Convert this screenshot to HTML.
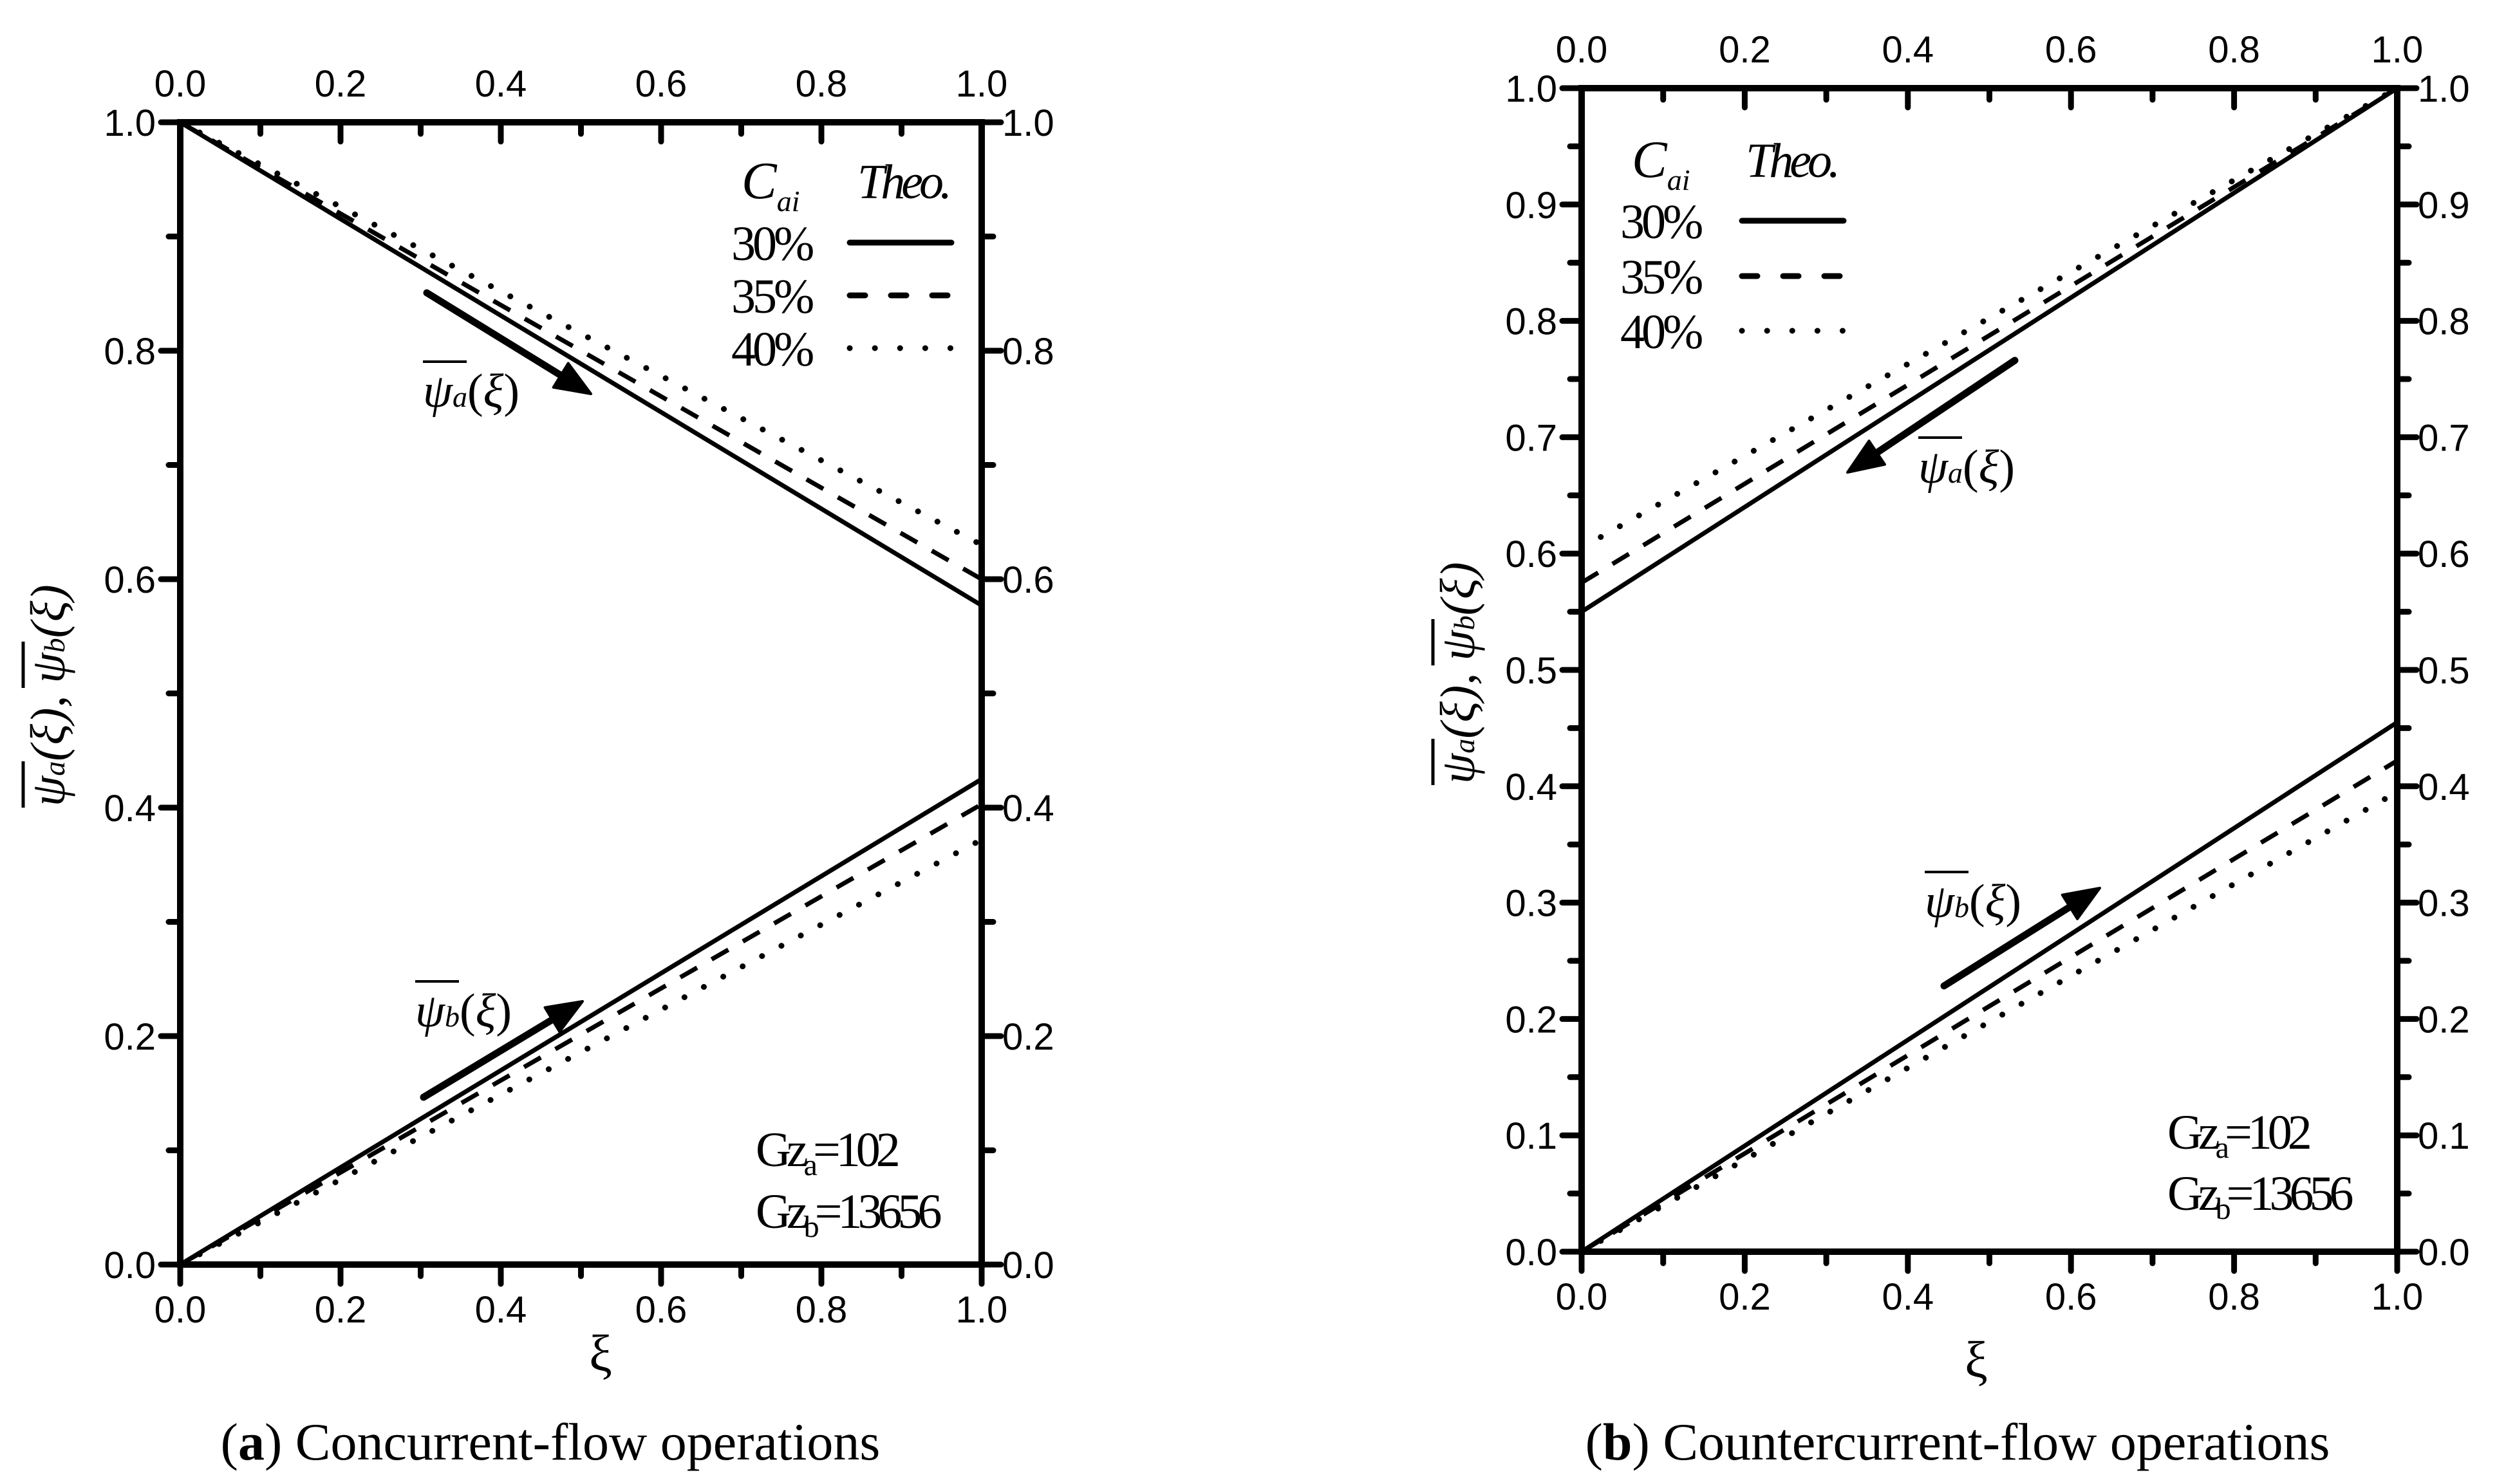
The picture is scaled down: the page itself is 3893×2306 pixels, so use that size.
<!DOCTYPE html>
<html><head><meta charset="utf-8"><style>
html,body{margin:0;padding:0;background:#fff;}
svg{display:block;}
.tk{font-family:"Liberation Sans",Arial,sans-serif;font-size:58px;fill:#000;}
.sr{font-family:"Liberation Serif","Times New Roman",serif;fill:#000;}
</style></head><body>
<svg id="fig" width="3893" height="2306" viewBox="0 0 3893 2306" xmlns="http://www.w3.org/2000/svg"></svg>
<script>
// ---- data ----
const seriesNames = ["30%", "35%", "40%"];
const xPoints = [0, 1];
// Panel (a) concurrent flow
const aUpper30 = [1.0, 0.577];
const aUpper35 = [1.0, 0.600];
const aUpper40 = [1.0, 0.630];
const aLower30 = [0.0, 0.425];
const aLower35 = [0.0, 0.403];
const aLower40 = [0.0, 0.372];
// Panel (b) countercurrent flow
const bUpper30 = [0.550, 1.0];
const bUpper35 = [0.575, 1.0];
const bUpper40 = [0.605, 1.0];
const bLower30 = [0.0, 0.455];
const bLower35 = [0.0, 0.422];
const bLower40 = [0.0, 0.395];
const xTickLabels = ["0.0","0.2","0.4","0.6","0.8","1.0"];
const aYTickLabels = ["0.0","0.2","0.4","0.6","0.8","1.0"];
const bYTickLabels = ["0.0","0.1","0.2","0.3","0.4","0.5","0.6","0.7","0.8","0.9","1.0"];

const NS = "http://www.w3.org/2000/svg";
const svg = document.getElementById("fig");
function mk(tag, attrs, parent){
  const e = document.createElementNS(NS, tag);
  for (const k in attrs) e.setAttribute(k, attrs[k]);
  (parent||svg).appendChild(e);
  return e;
}
const styles = [
  {"stroke-width":7},
  {"stroke-width":7,"stroke-dasharray":"30 26"},
  {"stroke-width":9,"stroke-dasharray":"0.1 34","stroke-linecap":"round"}
];

function panel(p){
  const g = mk("g", {});
  
  
  const X = v => p.x0 + (p.x1 - p.x0) * v;
  const Y = v => p.y0 - (p.y0 - p.y1) * v;
  const sets = [p.upper, p.lower];
  sets.forEach((grp, gi) => {
    grp.forEach((vals, si) => {
      const d = xPoints.map((xv, i) => (i ? "L" : "M") + X(xv).toFixed(1) + " " + Y(vals[i]).toFixed(1)).join(" ");
      const path = mk("path", Object.assign({d: d, fill: "none", stroke: "#000"}, styles[si]), g);
      
      
    });
  });
  const fr = mk("rect", {x: p.x0, y: p.y1, width: p.x1 - p.x0, height: p.y0 - p.y1, fill: "none", stroke: "#000", "stroke-width": 10}, g);
  
  
  for (let i = 0; i <= 10; i++){
    const v = i / 10, major = i % 2 === 0, L = major ? 30 : 18, xx = X(v);
    mk("line", {x1: xx, x2: xx, y1: p.y0, y2: p.y0 + L, stroke: "#000", "stroke-width": 9, "stroke-linecap": "round"}, g);
    mk("line", {x1: xx, x2: xx, y1: p.y1, y2: p.y1 + L, stroke: "#000", "stroke-width": 9, "stroke-linecap": "round"}, g);
  }
  xTickLabels.forEach((t, i) => {
    const v = i / (xTickLabels.length - 1);
    const tb = mk("text", {x: X(v), y: p.y0 + 90, "text-anchor": "middle", class: "tk"}, g);
    tb.textContent = t;
    
    
    const tt = mk("text", {x: X(v), y: p.y1 - 40, "text-anchor": "middle", class: "tk"}, g);
    tt.textContent = t;
    
    
  });
  const n = p.yLabels.length - 1;
  for (let i = 0; i <= 2 * n; i++){
    const v = i / (2 * n), major = i % 2 === 0, L = major ? 30 : 18, yy = Y(v);
    mk("line", {x1: p.x0, x2: p.x0 - L, y1: yy, y2: yy, stroke: "#000", "stroke-width": 9, "stroke-linecap": "round"}, g);
    mk("line", {x1: p.x1, x2: p.x1 + L, y1: yy, y2: yy, stroke: "#000", "stroke-width": 9, "stroke-linecap": "round"}, g);
  }
  p.yLabels.forEach((t, i) => {
    const v = i / n;
    const tl = mk("text", {x: p.x0 - 38, y: Y(v) + 21, "text-anchor": "end", class: "tk"}, g);
    tl.textContent = t;
    
    
    const tr = mk("text", {x: p.x1 + 32, y: Y(v) + 21, "text-anchor": "start", class: "tk"}, g);
    tr.textContent = t;
    
    
  });
  return g;
}

panel({name: "panel-a-concurrent", x0: 280, x1: 1525, y0: 1965, y1: 190,
  upper: [aUpper30, aUpper35, aUpper40], lower: [aLower30, aLower35, aLower40], yLabels: aYTickLabels});
panel({name: "panel-b-countercurrent", x0: 2457, x1: 3724, y0: 1945, y1: 137,
  upper: [bUpper30, bUpper35, bUpper40], lower: [bLower30, bLower35, bLower40], yLabels: bYTickLabels});

function legend(name, tx, lx0, lx1, ys, headY, cX, theoX){
  const g = mk("g", {});
  
  
  const c = mk("text", {x: cX, y: headY, class: "sr", "font-size": 82, "font-style": "italic"}, g);
  c.innerHTML = 'C<tspan font-size="46" dy="20">ai</tspan>';
  const th = mk("text", {x: theoX, y: headY, class: "sr", "font-size": 76, "font-style": "italic", "letter-spacing": "-6"}, g);
  th.textContent = "Theo.";
  seriesNames.forEach((s, i) => {
    const t = mk("text", {x: tx, y: ys[i] + 27, class: "sr", "font-size": 76, "letter-spacing": "-5"}, g);
    t.textContent = s;
    
    
    const l = mk("line", Object.assign({x1: lx0, x2: lx1, y1: ys[i], y2: ys[i], stroke: "#000", "stroke-linecap": "round"}, i===0?{"stroke-width":9}:i===1?{"stroke-width":9,"stroke-dasharray":"24 40"}:{"stroke-width":9,"stroke-dasharray":"0.1 39"}), g);
    
    
  });
}
legend("legend-a", 1136, 1320, 1478, [377, 459, 541], 308, 1152, 1332);
legend("legend-b", 2517, 2706, 2864, [343, 429, 514], 275, 2535, 2712);

function arrow(name, x1, y1, x2, y2){
  const g = mk("g", {});
  
  
  const ang = Math.atan2(y2 - y1, x2 - x1), hl = 55, hw = 22;
  const bx = x2 - hl * Math.cos(ang), by = y2 - hl * Math.sin(ang);
  mk("line", {x1: x1, y1: y1, x2: bx, y2: by, stroke: "#000", "stroke-width": 11, "stroke-linecap": "round"}, g);
  const px = -Math.sin(ang) * hw, py = Math.cos(ang) * hw;
  mk("polygon", {points: `${x2},${y2} ${bx+px},${by+py} ${bx-px},${by-py}`, fill: "#000", stroke: "#000", "stroke-width": 4, "stroke-linejoin": "round"}, g);
}
function psiLabel(name, x, y, sub){
  const g = mk("g", {});
  
  
  mk("line", {x1: x, x2: x + 68, y1: y - 70, y2: y - 70, stroke: "#000", "stroke-width": 4}, g);
  const t = mk("text", {x: x, y: y, class: "sr", "font-size": 74, "font-style": "italic"}, g);
  t.innerHTML = 'ψ<tspan font-size="46">' + sub + '</tspan><tspan font-style="normal">(</tspan>ξ<tspan font-style="normal">)</tspan>';
}
arrow("arrow-psi-a-a", 663, 455, 918, 612);
psiLabel("label-psi-a-a", 657, 632, "a");
arrow("arrow-psi-b-a", 658, 1705, 905, 1556);
psiLabel("label-psi-b-a", 645, 1595, "b");
arrow("arrow-psi-a-b", 3130, 560, 2870, 734);
psiLabel("label-psi-a-b", 2980, 750, "a");
arrow("arrow-psi-b-b", 3020, 1532, 3262, 1380);
psiLabel("label-psi-b-b", 2990, 1425, "b");

function gz(name, x, y1, y2){
  const g = mk("g", {});
  
  
  const a = mk("text", {x: x, y: y1, class: "sr", "font-size": 76, "letter-spacing": "-7"}, g);
  a.innerHTML = 'Gz<tspan font-size="48" dy="14">a</tspan><tspan dy="-14">=102</tspan>';
  const b = mk("text", {x: x, y: y2, class: "sr", "font-size": 76, "letter-spacing": "-7"}, g);
  b.innerHTML = 'Gz<tspan font-size="48" dy="14">b</tspan><tspan dy="-14">=13656</tspan>';
}
gz("gz-annotation-a", 1174, 1812, 1908);
gz("gz-annotation-b", 3367, 1785, 1880);

function ytitle(name, x, y){
  const g = mk("g", {transform: `translate(${x},${y}) rotate(-90)`});
  
  
  const t = mk("text", {x: -170, y: 0, class: "sr", "font-size": 76, "font-style": "italic"}, g);
  t.innerHTML = 'ψ<tspan font-size="46">a</tspan>(ξ), ψ<tspan font-size="46">b</tspan>(ξ)';
  mk("line", {x1: -172, x2: -100, y1: -64, y2: -64, stroke: "#000", "stroke-width": 5}, g);
  mk("line", {x1: 14, x2: 86, y1: -64, y2: -64, stroke: "#000", "stroke-width": 5}, g);
}
ytitle("y-axis-title-a", 100, 1083);
ytitle("y-axis-title-b", 2290, 1048);
function xt(name, x, y){
  const t = mk("text", {x: x, y: y, class: "sr", "font-size": 80, "text-anchor": "middle"});
  t.textContent = "ξ";
  
  
}
xt("x-axis-title-a", 933, 2130);
xt("x-axis-title-b", 3070, 2140);
function cap(name, x, letter, rest){
  const t = mk("text", {x: x, y: 2268, class: "sr", "font-size": 82, "text-anchor": "middle"});
  t.innerHTML = '(<tspan font-weight="bold">' + letter + '</tspan>) ' + rest;
  
  
}
cap("caption-a", 855, "a", "Concurrent-flow operations");
cap("caption-b", 3041, "b", "Countercurrent-flow operations");
</script>
</body></html>
